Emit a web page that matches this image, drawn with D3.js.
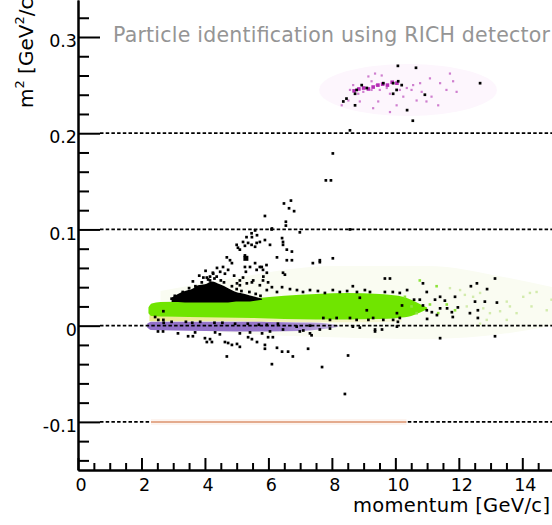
<!DOCTYPE html>
<html><head><meta charset="utf-8">
<script src="https://cdn.jsdelivr.net/npm/d3@7"></script>
<style>
html,body{margin:0;padding:0;background:#fff;}
svg{display:block;}
text{font-family:"DejaVu Sans",sans-serif;}
</style></head><body>
<svg id="chart" width="552" height="525"></svg>
<script>
// Axis ticks
const xMajorTicks = [0, 2, 4, 6, 8, 10, 12, 14];
const yMajorTicks = [-0.1, 0, 0.1, 0.2, 0.3];
const yTickLabels = ["-0.1", "0", "0.1", "0.2", "0.3"];
const gridLevels = [-0.1, 0, 0.1, 0.2];

// Dense bands: [momentum GeV/c, m² low, m² high]
const pionBand = [
  [2.22, 0.013, 0.019], [2.32, 0.010, 0.023], [2.6, 0.0095, 0.0245], [3.5, 0.009, 0.025],
  [4.5, 0.0085, 0.026], [5.5, 0.008, 0.028], [6.5, 0.007, 0.031], [7.5, 0.0065, 0.033],
  [8.5, 0.0065, 0.034], [9.5, 0.007, 0.033], [10.1, 0.008, 0.031], [10.5, 0.010, 0.027],
  [10.8, 0.014, 0.022], [11.0, 0.017, 0.019]
];
const pionHaze = [
  [2.6, 0.0, 0.036], [5, -0.008, 0.05], [8, -0.012, 0.062], [11, -0.014, 0.062],
  [13.5, -0.008, 0.05], [14.95, 0.0, 0.04]
];
const muonBand = [
  [2.25, 0.0045, 0.011], [3.0, 0.0045, 0.0095], [4.5, 0.0045, 0.009], [6.0, 0.004, 0.008],
  [7.5, 0.0035, 0.007], [9.0, 0.0035, 0.0068], [10.2, 0.004, 0.008]
];
const electronBand = [
  [2.18, -0.002, 0.002], [2.3, -0.0045, 0.0042], [3.0, -0.005, 0.0042], [4.0, -0.0055, 0.0042],
  [5.0, -0.006, 0.0042], [6.0, -0.006, 0.0038], [7.0, -0.0055, 0.0033], [7.6, -0.004, 0.003],
  [8.0, -0.0025, 0.0015], [8.2, -0.001, 0.0005]
];
const otherCore = [
  [2.95, 0.0245, 0.029], [3.15, 0.0245, 0.033], [3.37, 0.024, 0.036], [3.59, 0.024, 0.038],
  [3.78, 0.024, 0.042], [4.00, 0.024, 0.043], [4.22, 0.024, 0.046], [4.47, 0.024, 0.043],
  [4.73, 0.024, 0.039], [4.98, 0.025, 0.035], [5.26, 0.025, 0.033], [5.58, 0.026, 0.030],
  [5.80, 0.027, 0.028]
];

// Tracks without a ring, stored at m² = -0.1: momentum range
const noRingRange = [2.3, 10.35];
const noRingMass = -0.1;

// Kaon candidates [p, m²]
const kaonCore = [
  [8.7, 0.244], [8.85, 0.246], [9.0, 0.247], [9.15, 0.246], [9.3, 0.248], [9.45, 0.250],
  [9.6, 0.251], [9.75, 0.250], [9.9, 0.253], [10.05, 0.252]
];
const kaonPoints = [
  [9.36, 0.262], [9.57, 0.260], [9.15, 0.259], [9.25, 0.254], [9.41, 0.250], [8.67, 0.250],
  [8.57, 0.245], [8.83, 0.241], [8.99, 0.243], [9.25, 0.245], [9.51, 0.245], [9.73, 0.247],
  [9.83, 0.241], [10.14, 0.245], [10.36, 0.247], [10.56, 0.250], [10.78, 0.252], [10.51, 0.245],
  [10.83, 0.243], [11.09, 0.257], [11.41, 0.252], [11.72, 0.262], [11.82, 0.254], [11.61, 0.245],
  [11.93, 0.243], [11.35, 0.229], [10.98, 0.233], [10.04, 0.229], [9.83, 0.222], [9.30, 0.226],
  [8.88, 0.233], [8.31, 0.229], [8.52, 0.234], [9.46, 0.233], [10.25, 0.238], [10.67, 0.234],
  [11.14, 0.238]
];
const kaonHazeP = [7.6, 13.2];
const kaonHazeM = [0.218, 0.272];

// Sparse pion hits beyond the dense band [p, m²]
const pionSparse = [
  [10.30, 0.030], [10.51, 0.020], [10.67, 0.013], [11.09, 0.022], [11.35, 0.013],
  [11.62, 0.022], [11.88, 0.016], [10.77, 0.047], [11.30, 0.041]
];
const pionFaint = [
  [11.72, 0.039], [12.04, 0.037], [12.19, 0.032], [12.45, 0.030], [12.67, 0.034], [12.25, 0.020],
  [12.77, 0.018], [12.98, 0.013], [13.30, 0.015], [13.51, 0.025], [13.61, 0.020], [13.82, 0.013],
  [14.03, 0.030], [14.24, 0.034], [12.67, 0.002], [12.88, 0.006], [13.51, 0.006], [14.29, 0.020],
  [14.45, 0.035], [14.77, 0.016], [14.92, 0.027]
];

// Unidentified tracks [p, m²]
const otherPoints = [
  [10.08, 0.270], [10.65, 0.268], [12.67, 0.252], [10.37, 0.224], [10.55, 0.213], [8.57, 0.203],
  [8.03, 0.179], [7.81, 0.151], [7.97, 0.151],
  [8.94, 0.250], [8.78, 0.245], [9.10, 0.247], [8.73, 0.241], [8.46, 0.236], [8.36, 0.233],
  [8.73, 0.229], [9.62, 0.252], [9.93, 0.252], [10.09, 0.254], [10.20, 0.250], [9.93, 0.241],
  [10.93, 0.240], [10.04, 0.245],
  [6.49, 0.127], [6.71, 0.130], [6.65, 0.122], [6.81, 0.119], [5.89, 0.114], [6.55, 0.108],
  [6.55, 0.104], [6.11, 0.101], [5.58, 0.099], [6.99, 0.097], [8.57, 0.100], [6.10, 0.100],
  [5.47, 0.096], [5.31, 0.092],
  [5.64, 0.094], [5.48, 0.092], [5.20, 0.087], [5.36, 0.086], [5.04, 0.081], [5.26, 0.083],
  [5.58, 0.082], [5.73, 0.087], [6.05, 0.084], [6.43, 0.091], [6.46, 0.087], [6.46, 0.084],
  [6.58, 0.079], [6.74, 0.077], [6.58, 0.068], [6.74, 0.068], [6.27, 0.071], [7.40, 0.065],
  [7.62, 0.066], [8.03, 0.070], [7.62, 0.068],
  [4.69, 0.071], [4.79, 0.068], [4.85, 0.065], [4.57, 0.061], [4.73, 0.058], [5.26, 0.061],
  [5.29, 0.056], [5.58, 0.065], [5.73, 0.061], [5.83, 0.058], [5.95, 0.055], [4.38, 0.060],
  [4.25, 0.055], [4.16, 0.051], [4.06, 0.050], [5.83, 0.047], [5.99, 0.045], [6.46, 0.055],
  [6.52, 0.053], [5.01, 0.044], [5.10, 0.042], [5.48, 0.045], [5.73, 0.042], [5.95, 0.037],
  [6.11, 0.040], [6.27, 0.035], [6.43, 0.040], [9.67, 0.049], [9.83, 0.049], [5.79, 0.061],
  [5.94, 0.063],
  [5.10, 0.079], [5.26, 0.073], [4.63, 0.054], [4.26, 0.054], [4.37, 0.051], [4.16, 0.047],
  [5.42, 0.061], [5.63, 0.058], [5.10, 0.047], [5.32, 0.044], [5.52, 0.047], [5.84, 0.051],
  [5.89, 0.089], [5.47, 0.084], [5.63, 0.086], [5.00, 0.084],
  [3.05, 0.031], [3.30, 0.035], [3.50, 0.039], [3.70, 0.041], [3.90, 0.045], [4.10, 0.048],
  [4.30, 0.049], [3.95, 0.050], [4.50, 0.047], [4.60, 0.045], [4.85, 0.041], [5.00, 0.038],
  [5.15, 0.036], [5.40, 0.035], [5.60, 0.033], [5.75, 0.031], [2.95, 0.028],
  [3.62, 0.046], [3.82, 0.052], [4.48, 0.056], [4.92, 0.052], [5.20, 0.050], [4.02, 0.057],
  [6.68, 0.038], [6.90, 0.037], [7.09, 0.035], [7.31, 0.037], [7.56, 0.036], [7.78, 0.034],
  [8.03, 0.037], [8.25, 0.035], [8.48, 0.036], [8.66, 0.041], [8.79, 0.035], [9.04, 0.037],
  [9.20, 0.035], [9.67, 0.035], [9.92, 0.035], [10.14, 0.034], [10.37, 0.037], [10.99, 0.035],
  [10.87, 0.044], [12.38, 0.041], [12.89, 0.038], [13.14, 0.049], [12.57, 0.044],
  [8.88, 0.029], [9.10, 0.016], [10.77, 0.027], [10.87, 0.021], [10.99, 0.016], [11.15, 0.014],
  [11.31, 0.011], [11.41, 0.018], [11.63, 0.018], [11.78, 0.014], [11.81, 0.009], [11.25, 0.027],
  [11.41, 0.030], [11.88, 0.030], [11.97, 0.019], [12.35, 0.013], [12.60, 0.008], [12.60, 0.016],
  [12.82, 0.025], [12.51, 0.025], [13.20, 0.024], [10.05, 0.013], [10.08, 0.004], [11.00, 0.007],
  [10.59, 0.027], [11.56, 0.026], [10.21, 0.021],
  [7.73, 0.008], [7.94, 0.006], [8.15, 0.008], [8.57, 0.008], [8.78, 0.006], [9.15, 0.006],
  [9.30, 0.008], [9.62, 0.006], [9.93, 0.006], [10.14, 0.008],
  [9.36, -0.004], [9.58, -0.004], [10.05, -0.001], [8.66, -0.001], [8.88, -0.002], [7.31, 0.000],
  [6.99, -0.006], [7.62, -0.004], [7.94, -0.003], [9.36, -0.006], [6.89, -0.001], [7.10, -0.005],
  [7.31, -0.008], [7.36, -0.010], [6.46, -0.004],
  [2.70, 0.003], [2.95, 0.004], [3.40, 0.004], [3.60, 0.003], [3.85, 0.004], [4.30, 0.003],
  [4.55, 0.003], [4.95, 0.002], [5.35, 0.002], [5.70, 0.001], [5.95, 0.001], [6.30, 0.002],
  [2.52, -0.006], [2.68, -0.006], [3.15, -0.008], [3.47, -0.011], [3.62, -0.011], [3.69, -0.007],
  [4.00, -0.013], [4.16, -0.014], [4.06, -0.017], [4.22, -0.017], [4.32, -0.007], [4.47, -0.009],
  [4.63, -0.017], [4.73, -0.018], [4.85, -0.020], [5.01, -0.019], [5.10, -0.022], [5.10, -0.008],
  [5.36, -0.012], [5.42, -0.007], [5.48, -0.014], [5.64, -0.017], [5.80, -0.008], [5.89, -0.020],
  [5.89, -0.024], [5.99, -0.012], [6.05, -0.006], [6.14, -0.012], [6.27, -0.023], [6.43, -0.027],
  [6.62, -0.027], [6.77, -0.032], [7.25, -0.024], [7.69, -0.043], [4.69, -0.032], [6.11, -0.040],
  [8.51, -0.031], [8.41, -0.071], [11.41, -0.013], [13.14, -0.011],
  [2.43, 0.009], [2.69, 0.015], [2.53, 0.006], [2.69, 0.006]
];
const otherLarge = [[5.29, 0.070]];

const titleText = "Particle identification using RICH detector";
const xTitle = "momentum [GeV/c]";

// ---- layout ----
const W = 552, H = 525;
const svg = d3.select("#chart");
const x = d3.scaleLinear().domain([0, 14]).range([78, 522.3]);
const y = d3.scaleLinear().domain([-0.15, 0.3]).range([470, 37]);
const xEnd = x.invert(W);      // frame runs past the right edge
const yEnd = y.invert(0);      // and past the top edge
const xa = x.copy().domain([0, xEnd]).range([x(0), W]);
const ya = y.copy().domain([-0.15, yEnd]).range([y(-0.15), 0]);

const defs = svg.append("defs");
function hGrad(id, stops) {
  const g = defs.append("linearGradient").attr("id", id)
    .attr("gradientUnits", "userSpaceOnUse")
    .attr("x1", 0).attr("x2", W).attr("y1", 0).attr("y2", 0);
  stops.forEach(([p, c]) => g.append("stop").attr("offset", x(p) / W).attr("stop-color", c));
}
hGrad("muonGrad", [[2.3, "#ecea8e"], [6, "#f1f0ae"], [10.2, "#f8f8dc"]]);
hGrad("elecGrad", [[2.2, "#9170c8"], [6.3, "#9777ca"], [8.2, "#c6b6e2"]]);

const area = d3.area()
  .x(d => x(d[0])).y0(d => y(d[1])).y1(d => y(d[2]))
  .curve(d3.curveMonotoneX);

// faint halo around the populated regions
svg.append("path").attr("d", area(pionHaze)).attr("fill", "#fafcf2");
svg.append("ellipse")
  .attr("cx", x((kaonHazeP[0] + kaonHazeP[1]) / 2))
  .attr("cy", y((kaonHazeM[0] + kaonHazeM[1]) / 2))
  .attr("rx", (x(kaonHazeP[1]) - x(kaonHazeP[0])) / 2)
  .attr("ry", (y(kaonHazeM[0]) - y(kaonHazeM[1])) / 2)
  .attr("fill", "#fdf6fd");

// bands
svg.append("path").attr("d", area(muonBand)).attr("fill", "url(#muonGrad)");
svg.append("path").attr("d", area(pionBand)).attr("fill", "#70e500");
svg.append("path").attr("d", area(electronBand)).attr("fill", "url(#elecGrad)");

// dashed grid
svg.append("g").selectAll("line").data(gridLevels).join("line")
  .attr("x1", x(0) + 22).attr("x2", W)
  .attr("y1", d => y(d)).attr("y2", d => y(d))
  .attr("stroke", "#000").attr("stroke-width", 1.7).attr("stroke-dasharray", "3.5,2.2");

// tracks with no ring
svg.append("line")
  .attr("x1", x(noRingRange[0])).attr("x2", x(noRingRange[1]))
  .attr("y1", y(noRingMass)).attr("y2", y(noRingMass))
  .attr("stroke", "#fdf4ef").attr("stroke-width", 6);
svg.append("line")
  .attr("x1", x(noRingRange[0])).attr("x2", x(noRingRange[1]))
  .attr("y1", y(noRingMass)).attr("y2", y(noRingMass))
  .attr("stroke", "#e4ab8e").attr("stroke-width", 2);

function squares(data, size, fill) {
  svg.append("g").selectAll("rect").data(data).join("rect")
    .attr("x", d => x(d[0]) - size / 2).attr("y", d => y(d[1]) - size / 2)
    .attr("width", size).attr("height", size).attr("fill", fill);
}
squares(pionFaint, 2.4, "#d3ebad");
squares(pionSparse, 2.6, "#8de33a");
svg.append("path").attr("d", area(otherCore)).attr("fill", "#000");
squares(kaonPoints, 2.2, "#cf7fcf");
squares(kaonCore, 3.6, "#b52cb5");
squares(otherPoints, 2.7, "#000");
squares(otherLarge, 5, "#000");

// axes
const axW = 2;
function styleAxis(g) {
  g.select(".domain").attr("stroke-width", axW);
  g.selectAll(".tick line").attr("stroke-width", axW);
  g.selectAll("text").attr("font-family", "DejaVu Sans").attr("font-size", 17.5).attr("fill", "#000");
}
const xMinor = d3.range(0.5, xEnd, 0.5).filter(v => !xMajorTicks.includes(v));
const yMinor = d3.range(-0.14, yEnd, 0.02).map(v => +v.toFixed(2)).filter(v => !yMajorTicks.some(t => Math.abs(t - v) < 1e-6));

const gxMinor = svg.append("g").attr("transform", `translate(0,${y(-0.15)})`)
  .call(d3.axisBottom(xa).tickValues(xMinor).tickSizeInner(-7).tickSizeOuter(0).tickFormat(""));
styleAxis(gxMinor);
const gx = svg.append("g").attr("transform", `translate(0,${y(-0.15)})`)
  .call(d3.axisBottom(xa).tickValues(xMajorTicks).tickSizeInner(-12).tickSizeOuter(0).tickPadding(9).tickFormat(d3.format("d")));
styleAxis(gx);
gx.selectAll(".tick text").attr("dx", 2.5);

const gyMinor = svg.append("g").attr("transform", `translate(${x(0)},0)`)
  .call(d3.axisLeft(ya).tickValues(yMinor).tickSizeInner(-11).tickSizeOuter(0).tickFormat(""));
styleAxis(gyMinor);
const gy = svg.append("g").attr("transform", `translate(${x(0)},0)`)
  .call(d3.axisLeft(ya).tickValues(yMajorTicks).tickSizeInner(-22).tickSizeOuter(0).tickPadding(1)
    .tickFormat((d, i) => yTickLabels[i]));
styleAxis(gy);
gy.selectAll(".tick text").attr("dy", "0.55em");

// titles
svg.append("text").attr("x", 113).attr("y", 42)
  .attr("font-size", 20.5).attr("fill", "#959595")
  .attr("textLength", 437).attr("lengthAdjust", "spacing")
  .text(titleText);

svg.append("text").attr("x", 353).attr("y", 512)
  .attr("font-size", 19.5).attr("fill", "#000")
  .attr("textLength", 197).attr("lengthAdjust", "spacing")
  .text(xTitle);

const yt = svg.append("text").attr("transform", "translate(33,108) rotate(-90)")
  .attr("font-size", 20).attr("fill", "#000");
yt.append("tspan").text("m");
yt.append("tspan").attr("dy", -9).attr("font-size", 13).text("2");
yt.append("tspan").attr("dy", 9).text(" [GeV");
yt.append("tspan").attr("dy", -9).attr("font-size", 13).text("2");
yt.append("tspan").attr("dy", 9).text("/c");
yt.append("tspan").attr("dy", -9).attr("font-size", 13).text("4");
yt.append("tspan").attr("dy", 9).text("]");
</script>
</body></html>
